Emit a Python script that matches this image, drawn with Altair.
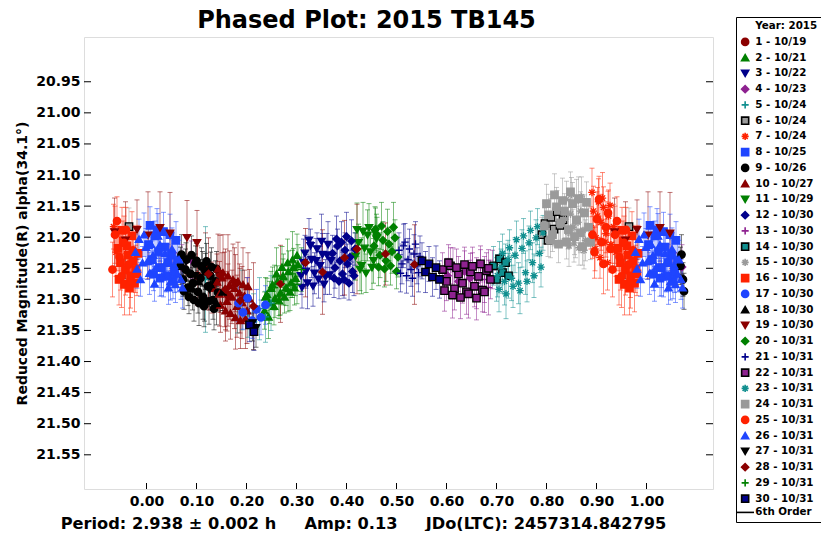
import altair as alt
import pandas as pd

# ---------------- data ----------------
LEGEND_HEADER = "Year: 2015"
FIT_LABEL = "6th Order"
SERIES_LABELS = [
    "1 - 10/19", "2 - 10/21", "3 - 10/22", "4 - 10/23", "5 - 10/24", "6 - 10/24",
    "7 - 10/24", "8 - 10/25", "9 - 10/26", "10 - 10/27", "11 - 10/29", "12 - 10/30",
    "13 - 10/30", "14 - 10/30", "15 - 10/30", "16 - 10/30", "17 - 10/30", "18 - 10/30",
    "19 - 10/30", "20 - 10/31", "21 - 10/31", "22 - 10/31", "23 - 10/31", "24 - 10/31",
    "25 - 10/31", "26 - 10/31", "27 - 10/31", "28 - 10/31", "29 - 10/31", "30 - 10/31",
]

s01 = {"phase": [0.102, 0.118, 0.131, 0.147, 0.163, 0.178],
       "mag": [21.262, 21.248, 21.281, 21.259, 21.293, 21.274],
       "err": [0.048, 0.055, 0.041, 0.062, 0.050, 0.046]}
s02 = {"phase": [0.236, 0.241, 0.246, 0.252, 0.257, 0.262, 0.268, 0.273, 0.279, 0.284, 0.289, 0.294, 0.298, 0.303,
                 0.238, 0.244, 0.249, 0.255, 0.260, 0.265, 0.271, 0.276, 0.282, 0.287, 0.292, 0.296, 0.301],
       "mag": [21.318, 21.292, 21.305, 21.276, 21.298, 21.271, 21.289, 21.262, 21.281, 21.255, 21.273, 21.248, 21.266, 21.244,
               21.296, 21.328, 21.282, 21.311, 21.259, 21.302, 21.248, 21.296, 21.241, 21.288, 21.236, 21.281, 21.229],
       "err": [0.030, 0.026, 0.034, 0.028, 0.031, 0.025, 0.036, 0.027, 0.029, 0.033, 0.024, 0.030, 0.028, 0.032,
               0.031, 0.035, 0.027, 0.030, 0.042, 0.029, 0.033, 0.026, 0.038, 0.030, 0.045, 0.028, 0.034]}
s03 = {"phase": [0.309, 0.314, 0.319, 0.325, 0.330, 0.336, 0.341, 0.347, 0.352, 0.358, 0.363, 0.369,
                 0.311, 0.317, 0.322, 0.328, 0.333, 0.339, 0.344, 0.350, 0.355, 0.361, 0.366],
       "mag": [21.262, 21.241, 21.255, 21.205, 21.236, 21.258, 21.219, 21.246, 21.228, 21.264, 21.212, 21.238,
               21.281, 21.226, 21.274, 21.214, 21.279, 21.238, 21.268, 21.207, 21.276, 21.229, 21.261],
       "err": [0.030, 0.038, 0.027, 0.035, 0.029, 0.033, 0.026, 0.031, 0.034, 0.028, 0.037, 0.030,
               0.033, 0.029, 0.041, 0.027, 0.032, 0.036, 0.030, 0.044, 0.028, 0.035, 0.031]}
s04 = {"phase": [0.052, 0.071, 0.089, 0.602, 0.613, 0.624, 0.636, 0.647],
       "mag": [21.225, 21.248, 21.236, 21.262, 21.248, 21.271, 21.255, 21.266],
       "err": [0.032, 0.036, 0.030, 0.028, 0.031, 0.027, 0.033, 0.029]}
s05 = {"phase": [0.118, 0.182, 0.191, 0.203, 0.214, 0.226, 0.238, 0.249],
       "mag": [21.268, 21.312, 21.301, 21.322, 21.336, 21.315, 21.328, 21.306],
       "err": [0.085, 0.042, 0.048, 0.039, 0.045, 0.050, 0.041, 0.044]}
s06 = {"phase": [0.791, 0.797, 0.803, 0.809, 0.815, 0.821, 0.827, 0.833, 0.965],
       "mag": [21.196, 21.178, 21.205, 21.168, 21.187, 21.159, 21.181, 21.172, 21.183],
       "err": [0.028, 0.032, 0.026, 0.030, 0.027, 0.034, 0.029, 0.031, 0.030]}
s07 = {"phase": [0.889, 0.894, 0.899, 0.904, 0.909, 0.914, 0.919, 0.924, 0.929, 0.934, 0.939,
                 0.891, 0.897, 0.902, 0.907, 0.912, 0.917, 0.922, 0.927],
       "mag": [21.185, 21.158, 21.201, 21.143, 21.176, 21.152, 21.194, 21.166, 21.212, 21.183, 21.224,
               21.128, 21.219, 21.166, 21.233, 21.137, 21.208, 21.241, 21.149],
       "err": [0.034, 0.040, 0.031, 0.037, 0.045, 0.033, 0.038, 0.042, 0.030, 0.036, 0.039,
               0.039, 0.035, 0.046, 0.033, 0.041, 0.037, 0.044, 0.036]}
s08 = {"phase": [0.004, 0.011, 0.017, 0.024, 0.030, 0.037, 0.043, 0.050, 0.056, 0.062,
                 0.007, 0.014, 0.021, 0.027, 0.034, 0.040, 0.047, 0.053, 0.059],
       "mag": [21.212, 21.236, 21.198, 21.224, 21.249, 21.216, 21.241, 21.229, 21.258, 21.237,
               21.181, 21.259, 21.188, 21.266, 21.191, 21.262, 21.196, 21.271, 21.205],
       "err": [0.026, 0.030, 0.024, 0.028, 0.032, 0.027, 0.029, 0.025, 0.031, 0.028,
               0.030, 0.027, 0.034, 0.029, 0.031, 0.026, 0.033, 0.028, 0.030]}
s09 = {"phase": [0.068, 0.073, 0.078, 0.083, 0.088, 0.093, 0.098, 0.103, 0.108, 0.113, 0.118, 0.123, 0.128, 0.133, 0.138, 0.143,
                 0.070, 0.075, 0.080, 0.085, 0.090, 0.095, 0.100, 0.105, 0.110, 0.115, 0.120, 0.125, 0.130, 0.135, 0.140],
       "mag": [21.246, 21.268, 21.252, 21.281, 21.259, 21.274, 21.242, 21.288, 21.266, 21.296, 21.255, 21.279, 21.262, 21.301, 21.271, 21.289,
               21.228, 21.287, 21.236, 21.296, 21.229, 21.301, 21.238, 21.306, 21.247, 21.311, 21.239, 21.303, 21.248, 21.315, 21.251],
       "err": [0.030, 0.027, 0.033, 0.029, 0.035, 0.031, 0.028, 0.034, 0.030, 0.036, 0.029, 0.032, 0.038, 0.031, 0.033, 0.030,
               0.032, 0.029, 0.035, 0.027, 0.031, 0.034, 0.028, 0.036, 0.030, 0.033, 0.029, 0.037, 0.031, 0.034, 0.028]}
s10 = {"phase": [0.141, 0.146, 0.151, 0.156, 0.161, 0.166, 0.171, 0.176, 0.181, 0.186, 0.191, 0.196, 0.201, 0.206,
                 0.143, 0.148, 0.153, 0.158, 0.163, 0.168, 0.173, 0.178, 0.183, 0.188, 0.193, 0.198, 0.203],
       "mag": [21.272, 21.291, 21.265, 21.284, 21.303, 21.277, 21.296, 21.282, 21.311, 21.289, 21.305, 21.294, 21.318, 21.299,
               21.251, 21.309, 21.257, 21.318, 21.262, 21.322, 21.268, 21.329, 21.271, 21.334, 21.276, 21.331, 21.279],
       "err": [0.045, 0.052, 0.040, 0.060, 0.048, 0.055, 0.043, 0.065, 0.050, 0.046, 0.058, 0.041, 0.053, 0.047,
               0.056, 0.044, 0.061, 0.049, 0.066, 0.042, 0.057, 0.051, 0.063, 0.045, 0.059, 0.048, 0.054]}
s11 = {"phase": [0.418, 0.424, 0.430, 0.436, 0.442, 0.448, 0.454, 0.460,
                 0.421, 0.427, 0.433, 0.439, 0.445, 0.451, 0.457],
       "mag": [21.231, 21.209, 21.246, 21.218, 21.197, 21.224, 21.238, 21.203,
               21.188, 21.252, 21.191, 21.258, 21.185, 21.249, 21.193],
       "err": [0.038, 0.030, 0.045, 0.033, 0.041, 0.029, 0.036, 0.040,
               0.043, 0.034, 0.047, 0.031, 0.039, 0.035, 0.042]}
s12 = {"phase": [0.372, 0.377, 0.382, 0.387, 0.392, 0.397, 0.402, 0.407, 0.412, 0.417,
                 0.375, 0.380, 0.385, 0.390, 0.395, 0.400, 0.405, 0.410, 0.415],
       "mag": [21.226, 21.249, 21.214, 21.238, 21.259, 21.221, 21.243, 21.232, 21.255, 21.219,
               21.266, 21.203, 21.271, 21.208, 21.268, 21.199, 21.274, 21.206, 21.262],
       "err": [0.029, 0.033, 0.027, 0.031, 0.035, 0.028, 0.032, 0.030, 0.034, 0.026,
               0.031, 0.037, 0.028, 0.033, 0.030, 0.039, 0.027, 0.034, 0.032]}
s13 = {"phase": [0.652, 0.660, 0.668, 0.676, 0.684, 0.692],
       "mag": [21.258, 21.274, 21.249, 21.268, 21.281, 21.252],
       "err": [0.033, 0.041, 0.029, 0.037, 0.044, 0.031]}
s14 = {"phase": [0.694, 0.700, 0.706, 0.712, 0.718, 0.724],
       "mag": [21.246, 21.268, 21.235, 21.257, 21.241, 21.262],
       "err": [0.031, 0.035, 0.028, 0.033, 0.030, 0.036]}
s15 = {"phase": [0.838, 0.843, 0.848, 0.853, 0.858, 0.863, 0.868, 0.873, 0.878,
                 0.840, 0.845, 0.850, 0.855, 0.860, 0.865, 0.870, 0.875],
       "mag": [21.171, 21.192, 21.163, 21.184, 21.201, 21.176, 21.158, 21.189, 21.205,
               21.139, 21.214, 21.131, 21.209, 21.142, 21.217, 21.135, 21.221],
       "err": [0.030, 0.027, 0.034, 0.029, 0.032, 0.026, 0.031, 0.028, 0.033,
               0.029, 0.033, 0.027, 0.031, 0.035, 0.028, 0.032, 0.030]}
s16 = {"phase": [0.943, 0.948, 0.953, 0.958, 0.963, 0.968, 0.973, 0.978, 0.983,
                 0.945, 0.951, 0.956, 0.961, 0.966, 0.971, 0.976, 0.981],
       "mag": [21.218, 21.241, 21.206, 21.253, 21.229, 21.262, 21.238, 21.251, 21.226,
               21.268, 21.189, 21.276, 21.214, 21.282, 21.198, 21.274, 21.259],
       "err": [0.036, 0.044, 0.032, 0.040, 0.047, 0.035, 0.042, 0.038, 0.045,
               0.041, 0.037, 0.049, 0.034, 0.043, 0.039, 0.046, 0.035]}
s17 = {"phase": [0.184, 0.193, 0.202, 0.211, 0.220, 0.229, 0.238],
       "mag": [21.306, 21.321, 21.298, 21.334, 21.316, 21.329, 21.309],
       "err": [0.030, 0.027, 0.033, 0.029, 0.032, 0.028, 0.031]}
s18 = {"phase": [0.092, 0.104, 0.116, 0.128, 0.140, 0.152],
       "mag": [21.283, 21.271, 21.298, 21.276, 21.306, 21.288],
       "err": [0.034, 0.029, 0.037, 0.031, 0.035, 0.030]}
s19 = {"phase": [0.936, 0.958, 0.981, 0.003, 0.027, 0.047, 0.081, 0.101],
       "mag": [21.192, 21.205, 21.188, 21.197, 21.185, 21.194, 21.201, 21.209],
       "err": [0.055, 0.062, 0.048, 0.070, 0.058, 0.066, 0.060, 0.052]}
s20 = {"phase": [0.455, 0.461, 0.467, 0.473, 0.479, 0.485, 0.491, 0.497, 0.503,
                 0.458, 0.464, 0.470, 0.476, 0.482, 0.488, 0.494, 0.500],
       "mag": [21.214, 21.196, 21.229, 21.205, 21.238, 21.211, 21.223, 21.201, 21.232,
               21.187, 21.248, 21.182, 21.251, 21.191, 21.246, 21.184, 21.255],
       "err": [0.031, 0.028, 0.036, 0.030, 0.033, 0.027, 0.035, 0.029, 0.032,
               0.034, 0.030, 0.038, 0.029, 0.036, 0.031, 0.040, 0.028]}
s21 = {"phase": [0.505, 0.511, 0.517, 0.523, 0.529, 0.535, 0.541, 0.547,
                 0.508, 0.514, 0.520, 0.526, 0.532, 0.538, 0.544],
       "mag": [21.221, 21.243, 21.208, 21.236, 21.252, 21.227, 21.246, 21.231,
               21.258, 21.214, 21.262, 21.219, 21.266, 21.211, 21.257],
       "err": [0.028, 0.032, 0.030, 0.034, 0.027, 0.031, 0.029, 0.033,
               0.030, 0.035, 0.028, 0.032, 0.029, 0.036, 0.031]}
s22 = {"phase": [0.592, 0.600, 0.608, 0.616, 0.624, 0.632, 0.640, 0.648, 0.656, 0.664, 0.672, 0.680, 0.688,
                 0.596, 0.604, 0.612, 0.620, 0.628, 0.636, 0.644, 0.652, 0.660, 0.668, 0.676, 0.684],
       "mag": [21.252, 21.271, 21.246, 21.283, 21.259, 21.274, 21.288, 21.256, 21.279, 21.263, 21.285, 21.254, 21.268,
               21.286, 21.241, 21.293, 21.249, 21.297, 21.244, 21.291, 21.247, 21.298, 21.243, 21.288, 21.250],
       "err": [0.027, 0.031, 0.029, 0.034, 0.028, 0.032, 0.036, 0.030, 0.033, 0.027, 0.035, 0.029, 0.031,
               0.033, 0.029, 0.037, 0.030, 0.034, 0.028, 0.039, 0.031, 0.035, 0.029, 0.033, 0.030]}
s23 = {"phase": [0.702, 0.709, 0.716, 0.723, 0.730, 0.737, 0.744, 0.751, 0.758, 0.765, 0.772, 0.779, 0.786, 0.793,
                 0.705, 0.712, 0.719, 0.726, 0.733, 0.740, 0.747, 0.754, 0.761, 0.768, 0.775, 0.782, 0.789],
       "mag": [21.262, 21.248, 21.271, 21.236, 21.266, 21.229, 21.274, 21.218, 21.257, 21.209, 21.241, 21.201, 21.226, 21.193,
               21.284, 21.226, 21.291, 21.217, 21.279, 21.204, 21.286, 21.198, 21.271, 21.189, 21.262, 21.183, 21.248],
       "err": [0.034, 0.029, 0.038, 0.031, 0.036, 0.028, 0.033, 0.030, 0.035, 0.027, 0.032, 0.029, 0.031, 0.028,
               0.036, 0.031, 0.040, 0.029, 0.034, 0.030, 0.037, 0.028, 0.033, 0.031, 0.035, 0.029, 0.032]}
s24 = {"phase": [0.796, 0.804, 0.812, 0.820, 0.828, 0.836, 0.844, 0.852, 0.860, 0.868, 0.876, 0.884,
                 0.800, 0.808, 0.816, 0.824, 0.832, 0.840, 0.848, 0.856, 0.864, 0.872, 0.880, 0.888],
       "mag": [21.182, 21.164, 21.196, 21.151, 21.177, 21.158, 21.188, 21.146, 21.172, 21.193, 21.161, 21.184,
               21.146, 21.205, 21.132, 21.211, 21.141, 21.208, 21.127, 21.199, 21.138, 21.215, 21.144, 21.208],
       "err": [0.029, 0.033, 0.027, 0.031, 0.035, 0.028, 0.030, 0.034, 0.026, 0.032, 0.029, 0.031,
               0.031, 0.028, 0.034, 0.030, 0.036, 0.027, 0.032, 0.029, 0.035, 0.030, 0.033, 0.028]}
s25 = {"phase": [0.892, 0.901, 0.910, 0.919, 0.928, 0.937, 0.946, 0.955, 0.964, 0.973,
                 0.896, 0.905, 0.914, 0.923, 0.932, 0.941, 0.950, 0.959, 0.968],
       "mag": [21.196, 21.171, 21.208, 21.184, 21.219, 21.196, 21.232, 21.209, 21.244, 21.221,
               21.224, 21.139, 21.243, 21.161, 21.252, 21.174, 21.263, 21.188, 21.271],
       "err": [0.038, 0.044, 0.035, 0.041, 0.037, 0.046, 0.039, 0.043, 0.036, 0.040,
               0.042, 0.037, 0.048, 0.035, 0.044, 0.039, 0.050, 0.036, 0.043]}
s26 = {"phase": [0.978, 0.985, 0.992, 0.999, 0.006, 0.013, 0.020, 0.027, 0.034, 0.041, 0.048, 0.055, 0.062, 0.069,
                 0.981, 0.988, 0.995, 0.002, 0.009, 0.016, 0.023, 0.030, 0.037, 0.044, 0.051, 0.058, 0.065, 0.072],
       "mag": [21.224, 21.203, 21.241, 21.216, 21.258, 21.229, 21.247, 21.212, 21.263, 21.238, 21.271, 21.245, 21.259, 21.268,
               21.251, 21.268, 21.196, 21.239, 21.211, 21.275, 21.198, 21.264, 21.226, 21.281, 21.219, 21.276, 21.236, 21.281],
       "err": [0.028, 0.032, 0.026, 0.030, 0.034, 0.029, 0.031, 0.027, 0.033, 0.028, 0.030, 0.035, 0.029, 0.032,
               0.031, 0.027, 0.035, 0.029, 0.033, 0.028, 0.036, 0.030, 0.032, 0.027, 0.034, 0.029, 0.031, 0.033]}
s27 = {"phase": [0.079, 0.097, 0.112, 0.126, 0.212, 0.219],
       "mag": [21.239, 21.262, 21.251, 21.284, 21.338, 21.346],
       "err": [0.030, 0.035, 0.028, 0.033, 0.029, 0.031]}
s28 = {"phase": [0.124, 0.158, 0.187, 0.214, 0.268, 0.318, 0.352, 0.396, 0.421, 0.478, 0.536],
       "mag": [21.259, 21.284, 21.302, 21.311, 21.275, 21.241, 21.256, 21.233, 21.219, 21.227, 21.244],
       "err": [0.058, 0.065, 0.052, 0.070, 0.062, 0.055, 0.068, 0.060, 0.072, 0.050, 0.064]}
s29 = {"phase": [0.256, 0.265, 0.274, 0.283, 0.292, 0.301, 0.310],
       "mag": [21.281, 21.296, 21.268, 21.287, 21.259, 21.276, 21.252],
       "err": [0.036, 0.030, 0.041, 0.033, 0.038, 0.031, 0.035]}
s30 = {"phase": [0.206, 0.215, 0.551, 0.558, 0.565, 0.572, 0.579, 0.586],
       "mag": [21.341, 21.352, 21.238, 21.256, 21.243, 21.264, 21.249, 21.268],
       "err": [0.027, 0.030, 0.029, 0.033, 0.028, 0.031, 0.035, 0.030]}

SERIES = [s01, s02, s03, s04, s05, s06, s07, s08, s09, s10, s11, s12, s13, s14, s15,
          s16, s17, s18, s19, s20, s21, s22, s23, s24, s25, s26, s27, s28, s29, s30]

Y_TICKS = [20.95, 21.00, 21.05, 21.10, 21.15, 21.20, 21.25, 21.30, 21.35, 21.40, 21.45, 21.50, 21.55]
X_TICKS = [0.0, 0.1, 0.2, 0.3, 0.4, 0.5, 0.6, 0.7, 0.8, 0.9, 1.0]
PHASE_WINDOW = (-0.07, 1.075)

X_TITLE = ("Period: 2.938 ± 0.002 h\u00a0\u00a0\u00a0\u00a0\u00a0Amp: 0.13"
           "\u00a0\u00a0\u00a0\u00a0\u00a0JDo(LTC): 2457314.842795")
Y_TITLE = "Reduced Magnitude(R) alpha(34.1°)"
CHART_TITLE = "Phased Plot: 2015 TB145"

# ---------------- styles ----------------
FONT = "DejaVu Sans"
COLOR_CYCLE = ["#8b0000", "#008000", "#00008b", "#8e2290", "#108f8f", "#9a9a9a", "#ff2200", "#1f45ff", "#000000"]
PLUS = "M-1,0L1,0M0,-1L0,1"
STAR = "M-1,0L1,0M0,-1L0,1M-0.72,-0.72L0.72,0.72M-0.72,0.72L0.72,-0.72"
SHAPE_CYCLE = ["circle", "triangle-up", "triangle-down", "diamond", PLUS, "square", STAR, "square"]

series_colors, series_strokes, series_shapes = [], [], []
for i in range(len(SERIES_LABELS)):
    series_colors.append(COLOR_CYCLE[i % 9])
    series_strokes.append("#000000" if i % 8 == 5 else COLOR_CYCLE[i % 9])
    series_shapes.append(SHAPE_CYCLE[i % 8])

domain = [LEGEND_HEADER] + SERIES_LABELS + [FIT_LABEL]
fills = ["transparent"] + series_colors + ["transparent"]
strokes = ["transparent"] + series_strokes + ["#000000"]
shapes = ["circle"] + series_shapes + ["M-2.5,0L2.5,0"]

# ---------------- table (phase-folded, wrapped into the plotted window) ----------------
rows = []
for label, s in zip(SERIES_LABELS, SERIES):
    for p, m, e in zip(s["phase"], s["mag"], s["err"]):
        for shift in (-1, 0, 1):
            q = p + shift
            if PHASE_WINDOW[0] <= q <= PHASE_WINDOW[1]:
                rows.append({"series": label, "phase": q, "mag": m, "lo": m - e, "hi": m + e})
df = pd.DataFrame(rows)
yt = pd.DataFrame({"v": Y_TICKS})
xt = pd.DataFrame({"v": X_TICKS})
title_df = pd.DataFrame({"t": [CHART_TITLE]})

W, H = 629, 452
xscale = alt.Scale(domain=[-0.125, 1.133], nice=False, zero=False)
yscale = alt.Scale(domain=[20.878, 21.605], nice=False, zero=False, reverse=True)

X_AXIS = alt.Axis(values=X_TICKS, format=".2f", ticks=False, domain=False, grid=False,
                  labelFont=FONT, labelFontWeight="bold", labelFontSize=14, labelColor="#000",
                  labelPadding=5, title=X_TITLE,
                  titleFont=FONT, titleFontWeight="bold", titleFontSize=16.2, titleColor="#000",
                  titleX=279, titleY=39, titleAlign="center", titleBaseline="alphabetic")
Y_AXIS = alt.Axis(values=Y_TICKS, format=".2f", ticks=False, domain=False, grid=False,
                  labelFont=FONT, labelFontWeight="bold", labelFontSize=14, labelColor="#000",
                  labelPadding=4, title=Y_TITLE,
                  titleFont=FONT, titleFontWeight="bold", titleFontSize=14, titleColor="#000",
                  titleX=-62, titleY=H / 2, titleAlign="center", titleBaseline="middle")


def X(field):
    return alt.X(field, type="quantitative", scale=xscale, axis=X_AXIS)


def Y(field):
    return alt.Y(field, type="quantitative", scale=yscale, axis=Y_AXIS)


legend = alt.Legend(
    orient="none", legendX=652, legendY=-20,
    labelFont=FONT, labelFontWeight="bold", labelFontSize=10.3, labelColor="#000",
    symbolSize=50, symbolStrokeWidth=1.6, labelOffset=5, labelLimit=200, symbolLimit=50,
    rowPadding=1.75, padding=4, strokeColor="#000", fillColor="#fff",
)

bar_color = alt.Color("series:N", scale=alt.Scale(domain=SERIES_LABELS, range=series_colors), legend=None)

bars = alt.Chart(df).mark_rule(strokeWidth=1, opacity=0.5).encode(
    x=X("phase"), y=Y("lo"), y2="hi:Q", color=bar_color)
cap_lo = alt.Chart(df).mark_tick(orient="horizontal", size=5, thickness=1, opacity=0.55).encode(
    x=X("phase"), y=Y("lo"), color=bar_color)
cap_hi = alt.Chart(df).mark_tick(orient="horizontal", size=5, thickness=1, opacity=0.55).encode(
    x=X("phase"), y=Y("hi"), color=bar_color)
points = alt.Chart(df).mark_point(size=55, strokeWidth=1.3, opacity=1).encode(
    x=X("phase"), y=Y("mag"),
    fill=alt.Fill("series:N", scale=alt.Scale(domain=domain, range=fills), legend=legend, title=""),
    stroke=alt.Stroke("series:N", scale=alt.Scale(domain=domain, range=strokes), legend=legend, title=""),
    shape=alt.Shape("series:N", scale=alt.Scale(domain=domain, range=shapes), legend=legend, title=""),
)

tick_left = alt.Chart(yt).mark_rule(color="#000", strokeWidth=1).encode(
    y=Y("v"), x=alt.value(0), x2=alt.value(7))
tick_right = alt.Chart(yt).mark_rule(color="#000", strokeWidth=1).encode(
    y=Y("v"), x=alt.value(W - 7), x2=alt.value(W))
tick_bottom = alt.Chart(xt).mark_rule(color="#000", strokeWidth=1).encode(
    x=X("v"), y=alt.value(H - 6), y2=alt.value(H))

# chart title drawn as a text mark above the plot frame
title_mark = alt.Chart(title_df).mark_text(
    font=FONT, fontSize=24, fontWeight="bold", color="#000", align="center", baseline="alphabetic"
).encode(text="t:N", x=alt.value(W / 2 - 32), y=alt.value(-9))

chart = alt.layer(bars, cap_lo, cap_hi, points, tick_left, tick_right, tick_bottom, title_mark).properties(
    width=W, height=H,
    padding={"left": 76, "top": 29, "right": 108, "bottom": 42},
    autosize=alt.AutoSizeParams(type="none"),
).configure_view(stroke="#000", strokeWidth=1.6).configure(background="#fff")

chart.save("out.html", embed_options={"renderer": "svg", "actions": False})
